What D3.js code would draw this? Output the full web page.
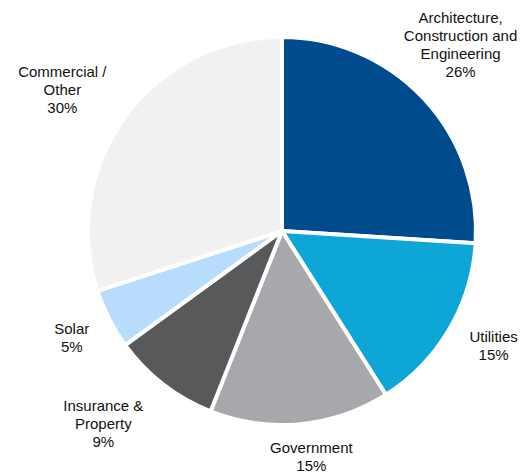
<!DOCTYPE html>
<html>
<head>
<meta charset="utf-8">
<script src="https://cdn.jsdelivr.net/npm/d3@7"></script>
<style>
  html, body { margin: 0; padding: 0; background: #fff; }
  text { font-family: "Liberation Sans", Arial, sans-serif; font-size: 15px; fill: #111; }
</style>
</head>
<body>
<div id="chart"></div>
<script>
const categories = ["Architecture, Construction and Engineering", "Utilities", "Government", "Insurance & Property", "Solar", "Commercial / Other"];
const labelLines = [["Architecture,", "Construction and", "Engineering"], ["Utilities"], ["Government"], ["Insurance &", "Property"], ["Solar"], ["Commercial /", "Other"]];
const shares = [26, 15, 15, 9, 5, 30];
const colors = ["#004b8d", "#0da6d6", "#a7a8ab", "#58595b", "#b8dcfb", "#f1f1f1"];

const width = 523, height = 473;
const cx = 282, cy = 231, radius = 194;

const svg = d3.select("#chart").append("svg")
    .attr("width", width)
    .attr("height", height);

const g = svg.append("g").attr("transform", `translate(${cx},${cy})`);

const pie = d3.pie().sort(null).value(d => d.value);
const arc = d3.arc().innerRadius(0).outerRadius(radius);

const data = categories.map((c, i) => ({ name: c, lines: labelLines[i], value: shares[i], color: colors[i] }));
const arcs = pie(data);

g.selectAll("path.slice")
    .data(arcs)
    .enter().append("path")
    .attr("class", "slice")
    .attr("d", arc)
    .style("fill", d => d.data.color)
    .style("stroke", "#fff")
    .style("stroke-width", "4px")
    .style("stroke-linejoin", "round");

// label placement: distance from centre and angle nudge per slice
const labelLayout = [
    { r: 258, da: -3 },
    { r: 241, da: -2 },
    { r: 228, da: -2 },
    { r: 263, da: 5 },
    { r: 236, da: 0 },
    { r: 261, da: -3.3 }
];
const lineH = 18;

const labels = g.selectAll("text.label")
    .data(arcs)
    .enter().append("text")
    .attr("class", "label")
    .attr("text-anchor", "middle")
    .attr("transform", (d, i) => {
        const a = (d.startAngle + d.endAngle) / 2 + labelLayout[i].da * Math.PI / 180;
        const r = labelLayout[i].r;
        return `translate(${r * Math.sin(a)},${-r * Math.cos(a)})`;
    });

labels.each(function (d) {
    const lines = d.data.lines.concat([d.data.value + "%"]);
    const t = d3.select(this);
    const y0 = -(lines.length - 1) * lineH / 2 + 5;
    lines.forEach((ln, k) => {
        t.append("tspan")
            .attr("x", 0)
            .attr("y", y0 + k * lineH)
            .text(ln);
    });
});
</script>
</body>
</html>
